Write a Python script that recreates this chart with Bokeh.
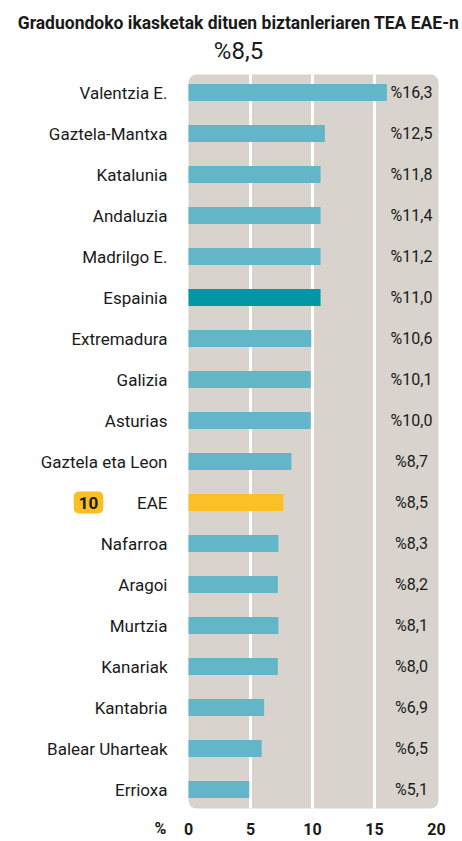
from bokeh.plotting import figure
from bokeh.models import Range1d, BoxAnnotation, Label, ColumnDataSource
from bokeh.embed import file_html
from bokeh.resources import INLINE
from bokeh.core.properties import value

regions = ["Valentzia E.", "Gaztela-Mantxa", "Katalunia", "Andaluzia", "Madrilgo E.",
           "Espainia", "Extremadura", "Galizia", "Asturias", "Gaztela eta Leon", "EAE",
           "Nafarroa", "Aragoi", "Murtzia", "Kanariak", "Kantabria", "Balear Uharteak", "Errioxa"]
bar_values = [16.0, 11.0, 10.65, 10.65, 10.65, 10.65, 9.9, 9.85, 9.85, 8.3, 7.65, 7.25,
              7.2, 7.25, 7.2, 6.1, 5.9, 4.9]
value_labels = ["%16,3", "%12,5", "%11,8", "%11,4", "%11,2", "%11,0", "%10,6", "%10,1", "%10,0",
                "%8,7", "%8,5", "%8,3", "%8,2", "%8,1", "%8,0", "%6,9", "%6,5", "%5,1"]
x_ticks = [0, 5, 10, 15, 20]
grid_ticks = [5, 10, 15]
title_text = "Graduondoko ikasketak dituen biztanleriaren TEA EAE-n"
headline = "%8,5"
rank_badge = "10"

LIGHT = "#62b6c7"
DARK = "#0097a7"
GOLD = "#fbbf28"
PANEL = "#d8d4cd"
INK = "#1a1a1a"
FONT = "Roboto"

W, H = 462, 840
X0, SX = 188.0, 12.4      # pixel of value 0, pixels per unit
ROW0, SY = 92.0, 41.0     # pixel centre of first row, pixels per row

n = len(regions)
ys = [n - 1 - i for i in range(n)]
colors = [DARK if r == "Espainia" else GOLD if r == "EAE" else LIGHT for r in regions]


def xd(px):
    return (px - X0) / SX


def yd(py):
    return (n - 1) + (ROW0 - py) / SY


p = figure(width=W, height=H, output_backend="svg", toolbar_location=None,
           x_range=Range1d(xd(0), xd(W)), y_range=Range1d(yd(H), yd(0)),
           min_border=0, x_axis_type=None, y_axis_type=None, title=None)
p.outline_line_color = None
p.background_fill_color = "white"
p.border_fill_color = "white"
p.grid.grid_line_color = None

panel_top, panel_bottom = yd(74), yd(808)
p.add_layout(BoxAnnotation(left=0, right=xd(438), top=panel_top, bottom=panel_bottom,
                           fill_color=PANEL, fill_alpha=1, line_color=None,
                           border_radius=8, level="image"))

p.segment(x0=grid_ticks, x1=grid_ticks, y0=[panel_bottom] * 3, y1=[panel_top] * 3,
          line_color="white", line_width=3)

src = ColumnDataSource(dict(y=ys, v=bar_values, c=colors, lab=value_labels, reg=regions,
                            lx=[xd(411)] * n, rx=[xd(167)] * n))

p.hbar(y="y", left=0, right="v", height=17 / SY, fill_color="c", line_color=None, source=src)
p.text(x="lx", y="y", text="lab", source=src, text_align="center", text_baseline="middle",
       text_font=value(FONT), text_font_size="16px", text_color=INK)
p.text(x="rx", y="y", text="reg", source=src, text_align="right", text_baseline="middle",
       text_font=value(FONT), text_font_size="17px", text_color=INK)

tick_src = ColumnDataSource(dict(x=x_ticks, y=[yd(828)] * len(x_ticks),
                                 t=[str(t) for t in x_ticks]))
p.text(x="x", y="y", text="t", source=tick_src, text_align="center", text_baseline="middle",
       text_font=value(FONT), text_font_style="bold", text_font_size="16px", text_color=INK)
p.text(x=[xd(160)], y=[yd(828)], text=["%"], text_align="center", text_baseline="middle",
       text_font=value(FONT), text_font_style="bold", text_font_size="16px", text_color=INK)

p.text(x=[xd(238)], y=[yd(22)], text=[title_text], text_align="center",
       text_baseline="middle", text_font=value(FONT), text_font_style="bold",
       text_font_size="17.5px", text_color=INK)
p.text(x=[xd(238)], y=[yd(50)], text=[headline], text_align="center",
       text_baseline="middle", text_font=value(FONT), text_font_style="normal",
       text_font_size="24px", text_color=INK)

eae_y = ys[regions.index("EAE")]
p.add_layout(Label(x=xd(88), y=eae_y, text=rank_badge, text_align="center",
                   text_baseline="middle", text_font=FONT, text_font_style="bold",
                   text_font_size="17px", text_color=INK,
                   background_fill_color="#fbbf24", border_radius=5, padding=5))

open("out.html", "w").write(file_html(p, INLINE))
